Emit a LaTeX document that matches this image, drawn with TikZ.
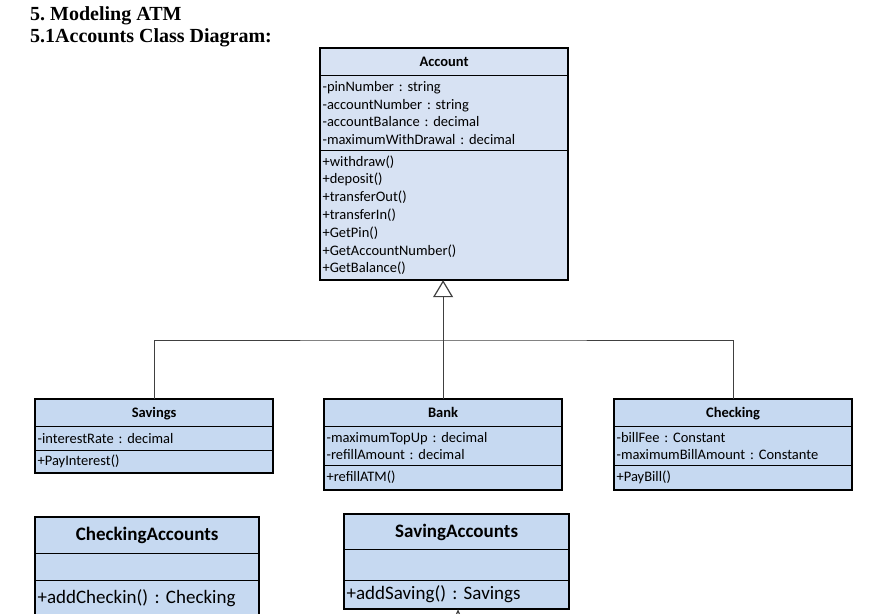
\documentclass[tikz,border=0pt]{standalone}
\usepackage{fontspec}
\setmainfont{Liberation Serif}
\newfontfamily\classfont{Carlito}
\usepackage{tikz}
\usetikzlibrary{arrows.meta, positioning, calc}
\usepackage{xcolor}
\definecolor{accblue}{HTML}{D7E2F3}
\definecolor{boxblue}{HTML}{C6D9F1}
\frenchspacing

\tikzset{
    part/.style={draw, line width=1.2pt, fill=boxblue, anchor=north west,
        inner xsep=2pt, inner ysep=0pt, align=left, text width=#1,
        font=\classfont\fontsize{14.5}{17.8}\selectfont},
    head/.style={part=#1, align=center, text height=0.95em, text depth=0.1em,
        font=\classfont\bfseries\fontsize{14.5}{16}\selectfont},
    bigpart/.style={part=#1, font=\classfont\fontsize{19}{21}\selectfont},
    bighead/.style={head=#1, text height=1.05em, text depth=0.05em,
        font=\classfont\bfseries\fontsize{19}{21}\selectfont},
    frame/.style={draw, line width=2pt},
    link/.style={draw=black!75, line width=0.8pt}
}

\begin{document}
\begin{tikzpicture}[x=1pt, y=-1pt]
    \useasboundingbox[fill=white] (0,0) rectangle (874,613);

    % Title
    \node[anchor=base west, inner sep=0pt, font=\bfseries\fontsize{20}{22}\selectfont] (title) at (30,20) {5. Modeling ATM};
    \node[anchor=base west, inner sep=0pt, font=\bfseries\fontsize{20}{22}\selectfont] (subtitle) at (30,42) {5.1Accounts Class Diagram:};

    % Account
    \node[head=243pt, fill=accblue, minimum height=27pt] (acc-h) at (320,48) {Account};
    \node[part=243pt, fill=accblue, minimum height=75pt] (acc-a) at (320,75) {-pinNumber : string\\-accountNumber : string\\-accountBalance : decimal\\-maximumWithDrawal : decimal};
    \node[part=243pt, fill=accblue, minimum height=129pt] (acc-m) at (320,150) {+withdraw()\\+deposit()\\+transferOut()\\+transferIn()\\+GetPin()\\+GetAccountNumber()\\+GetBalance()};
    \draw[frame] (acc-h.north west) rectangle (acc-m.south east);

    % Savings
    \node[head=233pt, minimum height=27pt] (sav-h) at (35,399) {Savings};
    \node[part=233pt, minimum height=24pt] (sav-a) at (35,426) {-interestRate : decimal};
    \node[part=233pt, minimum height=22pt] (sav-m) at (35,450) {+PayInterest()};
    \draw[frame] (sav-h.north west) rectangle (sav-m.south east);

    % Bank
    \node[head=233pt, minimum height=27pt] (bank-h) at (324,399) {Bank};
    \node[part=233pt, minimum height=39pt] (bank-a) at (324,426) {-maximumTopUp : decimal\\-refillAmount : decimal};
    \node[part=233pt, minimum height=24pt] (bank-m) at (324,465) {+refillATM()};
    \draw[frame] (bank-h.north west) rectangle (bank-m.south east);

    % Checking
    \node[head=233pt, minimum height=27pt] (chk-h) at (614,399) {Checking};
    \node[part=233pt, minimum height=39pt] (chk-a) at (614,426) {-billFee : Constant\\-maximumBillAmount : Constante};
    \node[part=233pt, minimum height=24pt] (chk-m) at (614,465) {+PayBill()};
    \draw[frame] (chk-h.north west) rectangle (chk-m.south east);

    % CheckingAccounts
    \node[bighead=219pt, minimum height=36pt] (ca-h) at (35,517) {CheckingAccounts};
    \node[bigpart=219pt, minimum height=27pt] (ca-a) at (35,553) {};
    \node[bigpart=219pt, minimum height=36pt] (ca-m) at (35,580) {+addCheckin() : Checking\\[-3pt]};
    \draw[frame] (ca-h.north west) rectangle (ca-m.south east);

    % SavingAccounts
    \node[bighead=220pt, minimum height=35pt] (sa-h) at (344,514) {SavingAccounts};
    \node[bigpart=220pt, minimum height=31pt] (sa-a) at (344,549) {};
    \node[bigpart=220pt, minimum height=28pt] (sa-m) at (344,580) {+addSaving() : Savings};
    \draw[frame] (sa-h.north west) rectangle (sa-m.south east);

    % Inheritance
    \coordinate (bus) at (443,340);
    \draw[link, -{Triangle[open, length=17pt, width=20pt, line width=1.2pt]}] (bank-h.north) -- (bank-h.north |- acc-m.south);
    \draw[link] (sav-h.north) |- (bus) -| (chk-h.north);

    % cut-off link below SavingAccounts
    \coordinate (sa-in) at (458,640);
    \draw[link, -{Triangle[open, length=12pt, width=10pt, line width=1.2pt]}] (sa-in) -- (sa-in |- sa-m.south);
\end{tikzpicture}
\end{document}
